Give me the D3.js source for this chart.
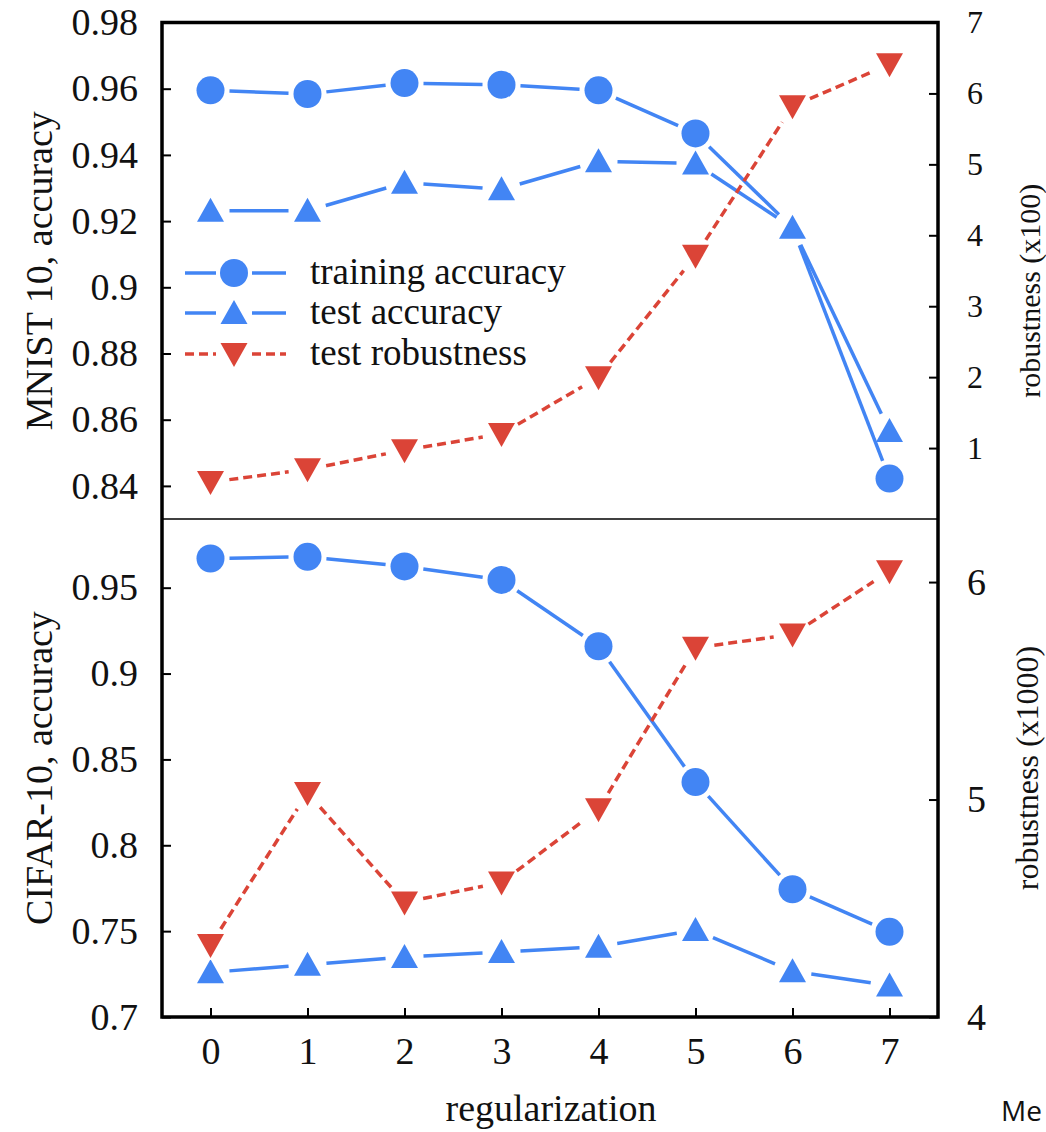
<!DOCTYPE html>
<html>
<head>
<meta charset="utf-8">
<script src="https://cdn.jsdelivr.net/npm/d3@7"></script>
<style>
  body { margin: 0; background: #fff; }
</style>
</head>
<body>
<svg id="chart" width="1046" height="1132"></svg>
<script>
// x values (regularization level)
var regularization = [0, 1, 2, 3, 4, 5, 6, 7];

// MNIST panel
var mnistTrainAcc = [0.9595, 0.9584, 0.9617, 0.9612, 0.9595, 0.9465, 0.918, 0.8422];
var mnistTestAcc  = [0.9231, 0.9231, 0.9316, 0.9296, 0.9381, 0.9374, 0.918, 0.8566];
var mnistRobust   = [0.52, 0.70, 0.97, 1.20, 2.00, 3.71, 5.82, 6.41];

// CIFAR-10 panel
var cifarTrainAcc = [0.967, 0.968, 0.9624, 0.9545, 0.9159, 0.8368, 0.7744, 0.7496];
var cifarTestAcc  = [0.726, 0.7304, 0.735, 0.7378, 0.7409, 0.7506, 0.7266, 0.7184];
var cifarRobust   = [4.331, 5.03, 4.527, 4.619, 4.955, 5.698, 5.759, 6.05];

// tick values
var mnistAccTicks = [0.84, 0.86, 0.88, 0.9, 0.92, 0.94, 0.96, 0.98];
var mnistRobTicks = [1, 2, 3, 4, 5, 6, 7];
var cifarAccTicks = [0.7, 0.75, 0.8, 0.85, 0.9, 0.95];
var cifarRobTicks = [4, 5, 6];

var legendLabels = ["training accuracy", "test accuracy", "test robustness"];

var BLUE = "#4285f4";
var RED = "#db4437";
var SERIF = "'Liberation Serif', 'DejaVu Serif', serif";

var svg = d3.select("#chart");

var left = 162, right = 938;
var x = d3.scaleLinear().domain([-0.5, 7.5]).range([left, right]);

function styleText(sel, size) {
    sel.attr("font-family", null)
        .style("font-family", SERIF)
        .style("font-size", size + "px")
        .attr("fill", "#111");
}

// draw one panel
function drawPanel(top, bottom, accDomain, robDomain, accTicks, robTicks, train, test, rob, opts) {

    var yAcc = d3.scaleLinear().domain(accDomain).range([bottom, top]);
    var yRob = d3.scaleLinear().domain(robDomain).range([bottom, top]);

    var g = svg.append("g");

    // left axis, ticks pointing inward
    var la = g.append("g")
        .attr("transform", "translate(" + left + ",0)")
        .call(d3.axisLeft(yAcc).tickValues(accTicks).tickSize(-9).tickPadding(24)
              .tickFormat(function(d) { return String(d); }));
    la.attr("font-family", null);
    la.select(".domain").remove();
    la.selectAll("line").attr("stroke", "#000").attr("stroke-width", 2);
    styleText(la.selectAll("text"), 38);

    // right axis
    var ra = g.append("g")
        .attr("transform", "translate(" + right + ",0)")
        .call(d3.axisRight(yRob).tickValues(robTicks).tickSize(-9).tickPadding(29)
              .tickFormat(d3.format("d")));
    ra.attr("font-family", null);
    ra.select(".domain").remove();
    ra.selectAll("line").attr("stroke", "#000").attr("stroke-width", 2);
    styleText(ra.selectAll("text"), opts.robFont);

    if (opts.xAxis) {
        var xa = g.append("g")
            .attr("transform", "translate(0," + bottom + ")")
            .call(d3.axisBottom(x).tickValues(regularization).tickSize(-9).tickPadding(20)
                  .tickFormat(d3.format("d")));
        xa.attr("font-family", null);
        xa.select(".domain").remove();
        xa.selectAll("line").attr("stroke", "#000").attr("stroke-width", 2);
        styleText(xa.selectAll("text"), 38);
    }

    // series
    var pts = function(arr, sc) {
        return regularization.map(function(r, i) { return [x(r), sc(arr[i])]; });
    };
    drawSeries(g, pts(train, yAcc), "circle", BLUE, null);
    drawSeries(g, pts(test, yAcc), "up", BLUE, null);
    drawSeries(g, pts(rob, yRob), "down", RED, "9,5");

    // axis titles
    styleText(g.append("text")
        .attr("transform", "translate(" + 52 + "," + ((top + bottom) / 2) + ") rotate(-90)")
        .attr("text-anchor", "middle")
        .text(opts.leftTitle), 38);

    styleText(g.append("text")
        .attr("transform", "translate(" + opts.rightTitleX + "," + ((top + bottom) / 2 + opts.rightTitleDy) + ") rotate(-90)")
        .attr("text-anchor", "middle")
        .text(opts.rightTitle), opts.rightTitleFont);
}

var gap = 19;

// line segments trimmed around the markers, then the markers
function drawSeries(g, p, shape, color, dash) {
    var segs = [];
    for (var i = 0; i < p.length - 1; i++) {
        var dx = p[i + 1][0] - p[i][0], dy = p[i + 1][1] - p[i][1];
        var len = Math.sqrt(dx * dx + dy * dy);
        if (len <= 2 * gap) continue;
        var ux = dx / len, uy = dy / len;
        segs.push([[p[i][0] + ux * gap, p[i][1] + uy * gap],
                   [p[i + 1][0] - ux * gap, p[i + 1][1] - uy * gap]]);
    }
    g.selectAll(null).data(segs).enter().append("line")
        .attr("x1", function(d) { return d[0][0]; })
        .attr("y1", function(d) { return d[0][1]; })
        .attr("x2", function(d) { return d[1][0]; })
        .attr("y2", function(d) { return d[1][1]; })
        .attr("stroke", color)
        .attr("stroke-width", 3.5)
        .attr("stroke-dasharray", dash);

    p.forEach(function(d) {
        // white backing, hides whatever is under the point
        g.append("circle").attr("cx", d[0]).attr("cy", d[1]).attr("r", 15).attr("fill", "#fff");
        marker(g, shape, d[0], d[1], color);
    });
}

function marker(g, shape, cx, cy, color) {
    if (shape == "circle") {
        g.append("circle").attr("cx", cx).attr("cy", cy).attr("r", 14).attr("fill", color);
    } else if (shape == "up") {
        g.append("path")
            .attr("d", "M" + cx + "," + (cy - 13) + "L" + (cx + 13.5) + "," + (cy + 11) + "L" + (cx - 13.5) + "," + (cy + 11) + "Z")
            .attr("fill", color);
    } else {
        g.append("path")
            .attr("d", "M" + cx + "," + (cy + 13) + "L" + (cx + 13.5) + "," + (cy - 11) + "L" + (cx - 13.5) + "," + (cy - 11) + "Z")
            .attr("fill", color);
    }
}

drawPanel(22.5, 519, [0.83, 0.98], [0, 7], mnistAccTicks, mnistRobTicks,
          mnistTrainAcc, mnistTestAcc, mnistRobust,
          { xAxis: false, robFont: 32, leftTitle: "MNIST 10, accuracy",
            rightTitle: "robustness (x100)", rightTitleX: 1040, rightTitleFont: 30, rightTitleDy: 20 });

drawPanel(519, 1017, [0.7, 0.99], [4, 6.29], cifarAccTicks, cifarRobTicks,
          cifarTrainAcc, cifarTestAcc, cifarRobust,
          { xAxis: true, robFont: 38, leftTitle: "CIFAR-10, accuracy",
            rightTitle: "robustness (x1000)", rightTitleX: 1038, rightTitleFont: 32, rightTitleDy: 0 });

// frames
svg.append("rect").attr("x", left).attr("y", 22.5).attr("width", right - left).attr("height", 1017 - 22.5)
    .attr("fill", "none").attr("stroke", "#000").attr("stroke-width", 3.5);
svg.append("line").attr("x1", left).attr("x2", right).attr("y1", 519).attr("y2", 519)
    .attr("stroke", "#000").attr("stroke-width", 1.5);

// legend
var legendY = [273, 313, 354];
var legendShapes = ["circle", "up", "down"];
var legendColors = [BLUE, BLUE, RED];
var lg = svg.append("g");
legendLabels.forEach(function(lab, i) {
    var y = legendY[i];
    var dash = i == 2 ? "9,5" : null;
    lg.append("line").attr("x1", 185).attr("x2", 216).attr("y1", y).attr("y2", y)
        .attr("stroke", legendColors[i]).attr("stroke-width", 3.5).attr("stroke-dasharray", dash);
    lg.append("line").attr("x1", 252).attr("x2", 286).attr("y1", y).attr("y2", y)
        .attr("stroke", legendColors[i]).attr("stroke-width", 3.5).attr("stroke-dasharray", dash);
    marker(lg, legendShapes[i], 234, y, legendColors[i]);
    styleText(lg.append("text").attr("x", 310).attr("y", y + 11).text(lab), 37);
});

// x axis title
styleText(svg.append("text").attr("x", 551).attr("y", 1121).attr("text-anchor", "middle")
    .text("regularization"), 38);

// small text at the bottom right corner
svg.append("text").attr("x", 1001).attr("y", 1121)
    .style("font-family", "'Open Sans', 'Noto Sans', sans-serif").style("font-size", "28px")
    .attr("fill", "#111")
    .text("Me");
</script>
</body>
</html>
